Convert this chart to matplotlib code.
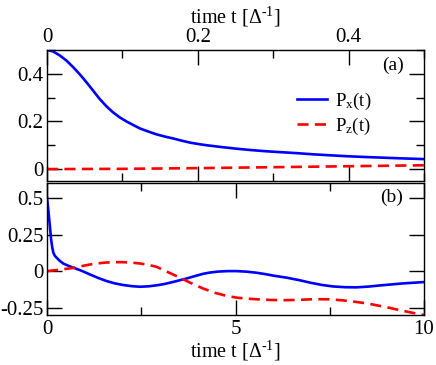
import matplotlib
matplotlib.use("Agg")
import matplotlib.pyplot as plt
from matplotlib.ticker import MultipleLocator, FixedLocator

# ---- data ----
# panel (a): short times
ta = [0.0, 0.008, 0.017, 0.026, 0.035, 0.044, 0.053, 0.062, 0.070, 0.079, 0.088, 0.097,
      0.106, 0.115, 0.123, 0.134, 0.145, 0.157, 0.168, 0.179, 0.190, 0.201, 0.212,
      0.230, 0.250, 0.270, 0.290, 0.310, 0.331, 0.353, 0.375, 0.398, 0.420, 0.445,
      0.470, 0.500]
pxa = [0.500, 0.494, 0.477, 0.455, 0.427, 0.396, 0.362, 0.326, 0.294, 0.263, 0.237, 0.216,
       0.199, 0.184, 0.171, 0.158, 0.146, 0.136, 0.128, 0.119, 0.111, 0.105, 0.100,
       0.093, 0.086, 0.080, 0.075, 0.071, 0.067, 0.062, 0.058, 0.054, 0.051, 0.048,
       0.045, 0.042]
tza = [0.0, 0.1, 0.2, 0.3, 0.4, 0.5]
pza = [0.000, 0.001, 0.004, 0.008, 0.012, 0.016]

# panel (b): long times
tb = [0.0, 0.03, 0.06, 0.09, 0.11, 0.14, 0.17, 0.21, 0.26, 0.34, 0.43, 0.55, 0.70,
      0.90, 1.14, 1.35, 1.58, 1.80, 2.02, 2.25, 2.47, 2.70, 2.91, 3.10, 3.30, 3.50,
      3.71, 3.95, 4.15, 4.32, 4.55, 4.80, 5.03, 5.30, 5.55, 5.80, 6.05, 6.36, 6.71,
      6.98, 7.30, 7.59, 7.90, 8.21, 8.52, 8.83, 9.14, 9.45, 9.75, 10.0]
pxb = [0.500, 0.430, 0.350, 0.270, 0.215, 0.160, 0.125, 0.104, 0.090, 0.070, 0.052,
       0.038, 0.023, 0.004, -0.023, -0.046, -0.068, -0.084, -0.095, -0.103, -0.107,
       -0.104, -0.097, -0.089, -0.077, -0.064, -0.050, -0.032, -0.018, -0.010, -0.003,
       0.000, 0.000, -0.004, -0.011, -0.021, -0.033, -0.045, -0.063, -0.079, -0.095,
       -0.105, -0.110, -0.111, -0.106, -0.098, -0.091, -0.084, -0.079, -0.075]
tzb = [0.0, 0.35, 0.70, 0.90, 1.14, 1.35, 1.58, 1.80, 2.02, 2.25, 2.47, 2.70, 2.91,
       3.10, 3.30, 3.53, 3.80, 4.15, 4.45, 4.77, 5.05, 5.30, 5.60, 5.92, 6.25, 6.62,
       6.98, 7.25, 7.51, 7.85, 8.21, 8.52, 8.83, 9.10, 9.36, 9.62, 9.89, 10.0]
pzb = [0.000, 0.010, 0.022, 0.033, 0.045, 0.053, 0.059, 0.061, 0.061, 0.058, 0.052,
       0.042, 0.029, 0.006, -0.018, -0.045, -0.080, -0.120, -0.148, -0.170,
       -0.182, -0.188, -0.193, -0.197, -0.199, -0.197, -0.193, -0.192, -0.193, -0.200,
       -0.211, -0.222, -0.238, -0.252, -0.267, -0.281, -0.295, -0.300]

xticks_a = [0, 0.2, 0.4]
xticks_b = [0, 5, 10]
yticks_a = [0, 0.2, 0.4]
yticks_b = [-0.25, 0, 0.25, 0.5]
xlabel = "time t [\u0394$^{\\text{-1}}$]"

plt.rcParams['font.family'] = ['Liberation Serif', 'DejaVu Serif']
plt.rcParams['mathtext.fontset'] = 'custom'
plt.rcParams['mathtext.rm'] = 'Liberation Serif'
plt.rcParams['mathtext.it'] = 'Liberation Serif:italic'
plt.rcParams['mathtext.bf'] = 'Liberation Serif:bold'

W, H = 436, 365
fig = plt.figure(figsize=(W / 100, H / 100), dpi=100)

def rect(x0, y0, x1, y1):
    return [x0 / W, 1 - y1 / H, (x1 - x0) / W, (y1 - y0) / H]

axa = fig.add_axes(rect(47, 50, 424, 181))
axb = fig.add_axes(rect(47, 183.3, 424, 315))

blue = '#0000ff'
red = '#ff0000'
lw = 1.9
dash = (0, (4.2, 2.4))

axa.plot(ta, pxa, color=blue, lw=lw, label='P$_{\\mathrm{x}}$(t)')
axa.plot(tza, pza, color=red, lw=lw, linestyle=dash, label='P$_{\\mathrm{z}}$(t)')
axb.plot(tb, pxb, color=blue, lw=lw)
axb.plot(tzb, pzb, color=red, lw=lw, linestyle=dash)

fs = 15
for ax in (axa, axb):
    for s in ax.spines.values():
        s.set_linewidth(1.0)
    ax.tick_params(which='both', direction='in', top=True, right=True, bottom=True,
                   left=True, width=1.0, labelsize=fs)
    ax.tick_params(which='major', length=10.5)
    ax.tick_params(which='minor', length=5.5)

axa.set_xlim(0, 0.5)
axa.set_ylim(-0.05, 0.5)
axa.xaxis.set_major_locator(FixedLocator(xticks_a))
axa.xaxis.set_minor_locator(MultipleLocator(0.1))
axa.yaxis.set_major_locator(FixedLocator(yticks_a))
axa.yaxis.set_minor_locator(MultipleLocator(0.1))
axa.set_xticklabels(['0', '0.2', '0.4'])
axa.set_yticklabels(['0', '0.2', '0.4'])
axa.tick_params(axis='x', labeltop=True, labelbottom=False, pad=2.0)
axa.tick_params(axis='y', pad=2.5)
axa.xaxis.set_label_position('top')
axa.set_xlabel(xlabel, fontsize=14.5, labelpad=3.5)

axb.set_xlim(0, 10)
axb.set_ylim(-0.3, 0.6)
axb.xaxis.set_major_locator(FixedLocator(xticks_b))
axb.xaxis.set_minor_locator(MultipleLocator(2.5))
axb.yaxis.set_major_locator(FixedLocator(yticks_b))
axb.set_xticklabels(['0', '5', '10'])
axb.set_yticklabels(['-0.25', '0', '0.25', '0.5'])
axb.tick_params(axis='x', pad=3.5)
axb.tick_params(axis='y', pad=2.5)
axb.set_xlabel(xlabel, fontsize=14.5, labelpad=0)

axa.text(0.947, 0.885, '(a)', transform=axa.transAxes, ha='right', va='center', fontsize=14)
axb.text(0.944, 0.894, '(b)', transform=axb.transAxes, ha='right', va='center', fontsize=14)

axa.legend(loc='upper left', bbox_to_anchor=(0.663, 0.69), frameon=False, fontsize=13.5,
           handlelength=1.6, handletextpad=0.45, labelspacing=0.2, borderpad=0,
           borderaxespad=0)

fig.savefig('out.png', dpi=100)
